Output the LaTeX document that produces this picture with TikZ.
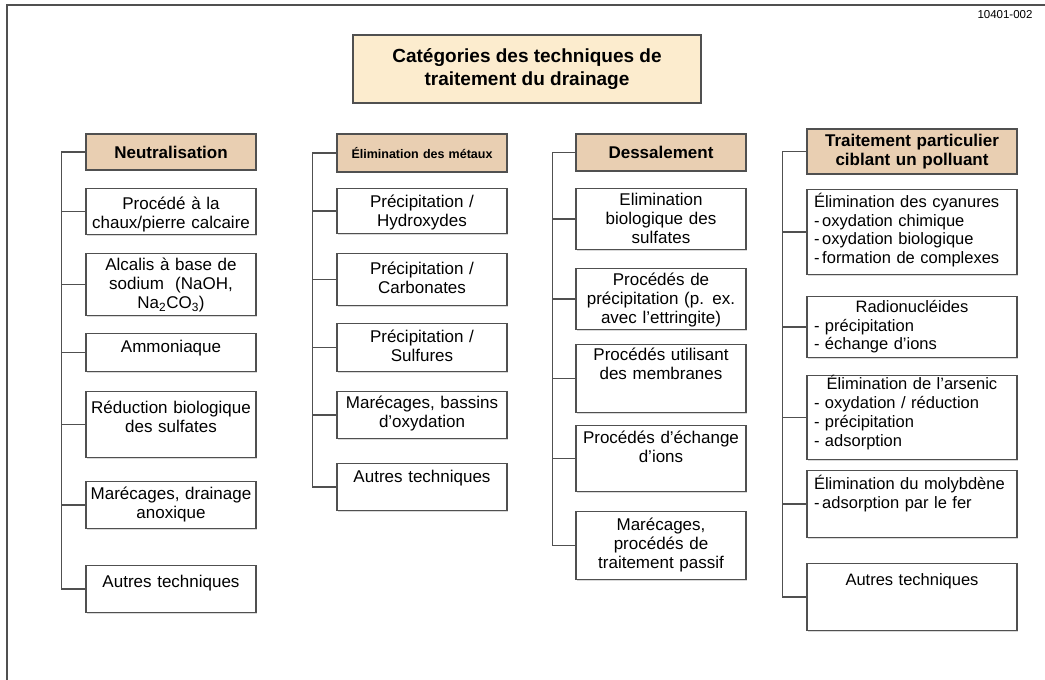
\documentclass[tikz,border=0pt]{standalone}
\usepackage{fontspec}
\setmainfont{Liberation Sans}
\usetikzlibrary{shadows}
\definecolor{titlefill}{RGB}{252,236,206}
\definecolor{headfill}{RGB}{233,207,178}
\definecolor{linegray}{RGB}{80,80,80}
\begin{document}
\begin{tikzpicture}[x=1pt, y=-1pt,
	titlebox/.style={draw=linegray, line width=1.4pt, fill=titlefill, minimum width=348pt, minimum height=68pt, align=center, font=\bfseries\fontsize{19}{23}\selectfont, drop shadow={shadow xshift=1.2pt, shadow yshift=-1.2pt, opacity=0.3}},
	head/.style={draw=linegray, line width=1.4pt, fill=headfill, text width=164pt, inner xsep=3pt, align=center, minimum height=#1, font=\bfseries\fontsize{17}{19}\selectfont, drop shadow={shadow xshift=1.2pt, shadow yshift=-1.2pt, opacity=0.3}},
	item/.style n args={2}{draw=linegray, line width=1.4pt, fill=white, text width=164pt, inner xsep=3pt, inner ysep=0pt, align=center, anchor=north, text height=#1, text depth=#2, font=\fontsize{17}{19}\selectfont, drop shadow={shadow xshift=1.2pt, shadow yshift=-1.2pt, opacity=0.3}},
	wide/.style n args={2}{item={#1}{#2}, text width=196pt, inner xsep=7pt, align=left, font=\fontsize{16.5}{18.5}\selectfont},
	link/.style={draw=linegray, line width=1.5pt}]
	\useasboundingbox (0,0) rectangle (1045,680);
	\draw[line width=2pt, draw=linegray] (7,4.5) rectangle (1070,700);
	\node[font=\fontsize{11.5}{13}\selectfont] (L) at (1005,15) {10401-002};
	\node[titlebox] (T) at (527,69) {Catégories des techniques de\\traitement du drainage};
	% colonne 1
	\node[head=36pt] (N) at (171,152) {Neutralisation};
	\node[item={21pt}{25pt}] (N1) at (171,188) {Procédé à la\\chaux/pierre calcaire};
	\node[item={17pt}{45pt}] (N2) at (171,253) {Alcalis à base de\\sodium~ (NaOH,\\Na\textsubscript{2}CO\textsubscript{3})};
	\node[item={19pt}{19pt}] (N3) at (171,333) {Ammoniaque};
	\node[item={22pt}{44pt}] (N4) at (171,391) {Réduction biologique\\des sulfates};
	\node[item={18pt}{29pt}] (N5) at (171,481) {Marécages, drainage\\anoxique};
	\node[item={22pt}{25pt}] (N6) at (171,565) {Autres techniques};
	% colonne 2
	\node[head=38pt, font=\bfseries\fontsize{12.5}{15}\selectfont] (E) at (422,153) {Élimination des métaux};
	\node[item={19pt}{26pt}] (E1) at (422,188) {Précipitation /\\Hydroxydes};
	\node[item={21pt}{31pt}] (E2) at (422,253) {Précipitation /\\Carbonates};
	\node[item={19pt}{29pt}] (E3) at (422,323) {Précipitation /\\Sulfures};
	\node[item={17pt}{30pt}] (E4) at (422,391) {Marécages, bassins\\d’oxydation};
	\node[item={19pt}{28pt}] (E5) at (422,463) {Autres techniques};
	% colonne 3
	\node[head=37pt] (D) at (661,152.5) {Dessalement};
	\node[item={17pt}{44pt}] (D1) at (661,188) {Elimination\\biologique des\\sulfates};
	\node[item={17pt}{44pt}] (D2) at (661,268) {Procédés de\\précipitation (p. ex.\\avec l’ettringite)};
	\node[item={16pt}{52pt}] (D3) at (661,344) {Procédés utilisant\\des membranes};
	\node[item={18pt}{48pt}] (D4) at (661,425) {Procédés d’échange\\d’ions};
	\node[item={19pt}{49pt}] (D5) at (661,511) {Marécages,\\procédés de\\traitement passif};
	% colonne 4
	\node[head=45pt, text width=204pt, font=\bfseries\fontsize{17}{18.5}\selectfont] (P) at (912,151.5) {Traitement particulier\\ciblant un polluant};
	\node[wide={18pt}{67pt}] (P1) at (912,189) {Élimination des cyanures\\-\,oxydation chimique\\-\,oxydation biologique\\-\,formation de complexes};
	\node[wide={16pt}{45pt}] (P2) at (912,296) {\makebox[\linewidth]{Radionucléides}\\ - précipitation\\ - échange d’ions};
	\node[wide={14pt}{70pt}, font=\fontsize{16.5}{19}\selectfont] (P3) at (912,375) {\makebox[\linewidth]{Élimination de l’arsenic}\\ - oxydation / réduction\\ - précipitation\\ - adsorption};
	\node[wide={19pt}{48pt}] (P4) at (912,470) {Élimination du molybdène\\-\,adsorption par le fer};
	\node[wide={22pt}{45pt}] (P5) at (912,563) {\makebox[\linewidth]{Autres techniques}};
	% liaisons
	\draw[link] (N.west) -- ++(-24,0) |- (N1.west);
	\draw[link] (N.west) -- ++(-24,0) |- (N2.west);
	\draw[link] (N.west) -- ++(-24,0) |- (N3.west);
	\draw[link] (N.west) -- ++(-24,0) |- (N4.west);
	\draw[link] (N.west) -- ++(-24,0) |- (N5.west);
	\draw[link] (N.west) -- ++(-24,0) |- (N6.west);
	\draw[link] (E.west) -- ++(-24,0) |- (E1.west);
	\draw[link] (E.west) -- ++(-24,0) |- (E2.west);
	\draw[link] (E.west) -- ++(-24,0) |- (E3.west);
	\draw[link] (E.west) -- ++(-24,0) |- (E4.west);
	\draw[link] (E.west) -- ++(-24,0) |- (E5.west);
	\draw[link] (D.west) -- ++(-23,0) |- (D1.west);
	\draw[link] (D.west) -- ++(-23,0) |- (D2.west);
	\draw[link] (D.west) -- ++(-23,0) |- (D3.west);
	\draw[link] (D.west) -- ++(-23,0) |- (D4.west);
	\draw[link] (D.west) -- ++(-23,0) |- (D5.west);
	\draw[link] (P.west) -- ++(-24,0) |- (P1.west);
	\draw[link] (P.west) -- ++(-24,0) |- (P2.west);
	\draw[link] (P.west) -- ++(-24,0) |- (P3.west);
	\draw[link] (P.west) -- ++(-24,0) |- (P4.west);
	\draw[link] (P.west) -- ++(-24,0) |- (P5.west);
\end{tikzpicture}
\end{document}
